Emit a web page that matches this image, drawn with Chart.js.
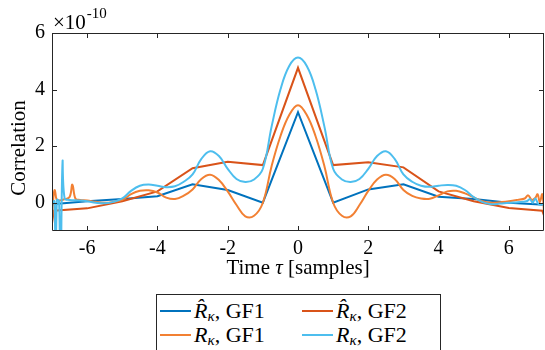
<!doctype html>
<html lang="en">
<head>
<meta charset="utf-8">
<title>Correlation vs time lag</title>
<style>
  html, body { margin: 0; padding: 0; background: #fff; }
  #wrap { position: relative; width: 545px; height: 350px; overflow: hidden; }
  #legend {
    position: absolute; left: 156px; top: 294px; width: 285px; height: 80px;
    border: 1px solid #262626; box-sizing: border-box; background: #fff;
    font-family: "Liberation Serif", serif; font-size: 22px; color: #000;
  }
  .item { position: absolute; height: 24px; line-height: 24px; white-space: nowrap; }
  .swatch { position: absolute; left: 0; top: 11px; width: 31px; height: 2px; }
  .txt { position: absolute; left: 34px; top: 0; }
  .txt sub { font-size: 15px; vertical-align: -3px; line-height: 0; }
</style>
</head>
<body>
<div id="wrap">
  <canvas id="myChart" width="545" height="350"></canvas>
  <div id="legend"></div>
</div>

<script src="https://cdn.jsdelivr.net/npm/chart.js"></script>
<script>
// values in units of 1e-10
const hatLagsGF1 = [-7, -6, -5, -4, -3, -2, -1, 0, 1, 2, 3, 4, 5, 6, 7];
const hatGF1 = [-0.05, 0.05, 0.13, 0.23, 0.65, 0.45, 0.0, 3.2, 0.0, 0.47, 0.65, 0.21, 0.13, 0.0, -0.07];

const hatLagsGF2 = [-7, -6.95, -6, -5, -4, -3, -2, -1, 0, 1, 2, 3, 4, 5, 6, 6.95, 7];
const hatGF2 = [-0.73, -0.28, -0.2, 0.05, 0.4, 1.22, 1.45, 1.33, 4.77, 1.33, 1.43, 1.25, 0.4, 0.05, -0.19, -0.28, -0.45];

const lagsGF1 = [-7, -6.96, -6.92, -6.87, -6.8, -6.65, -6.5, -6.42, -6.33, -6.2, -6, -5.75, -5.5, -5.25, -5,
  -4.75, -4.5, -4.25, -4, -3.75, -3.5, -3.25, -3, -2.75, -2.5, -2.25, -2, -1.75, -1.5, -1.25, -1,
  -0.75, -0.5, -0.25, 0, 0.25, 0.5, 0.75, 1, 1.25, 1.5, 1.75, 2, 2.25, 2.5, 2.75, 3, 3.25, 3.5, 3.75,
  4, 4.25, 4.5, 4.75, 5, 5.25, 5.5, 5.75, 6, 6.25, 6.45, 6.55, 6.65, 6.75, 6.82, 6.88, 6.95, 7];
const rGF1 = [-0.6, 0.2, 0.45, 0.12, 0.08, 0.12, 0.2, 0.64, 0.14, 0.1, 0.08, 0.03, 0.0, 0.03, 0.1,
  0.3, 0.42, 0.44, 0.36, 0.18, 0.13, 0.25, 0.47, 0.84, 0.99, 0.8, 0.4, -0.08, -0.48, -0.46, 0.0,
  1.3, 2.35, 3.1, 3.45, 3.1, 2.35, 1.3, 0.0, -0.46, -0.48, -0.08, 0.42, 0.82, 0.99, 0.84, 0.45, 0.24, 0.15, 0.14,
  0.26, 0.4, 0.42, 0.33, 0.19, 0.05, 0.0, 0.02, 0.05, 0.1, 0.15, 0.26, 0.1, 0.17, 0.3, 0.02, 0.3, -0.3];

const lagsGF2 = [-7, -6.93, -6.9, -6.86, -6.8, -6.76, -6.7, -6.64, -6.5, -6.25, -6, -5.75, -5.5, -5.25, -5,
  -4.75, -4.5, -4.25, -4, -3.75, -3.5, -3.25, -3, -2.75, -2.5, -2.25, -2, -1.75, -1.5, -1.25, -1,
  -0.75, -0.5, -0.25, 0, 0.25, 0.5, 0.75, 1, 1.25, 1.5, 1.75, 2, 2.25, 2.5, 2.75, 3, 3.25, 3.5, 3.75,
  4, 4.25, 4.5, 4.75, 5, 5.25, 5.5, 5.75, 6, 6.25, 6.5, 6.6, 6.68, 6.75, 6.85, 7];
const rGF2 = [0.0, 0.05, -3, 0.1, 0.05, -3, 1.45, 0.15, 0.1, 0.08, 0.05, 0.0, -0.02, 0.03, 0.15,
  0.42, 0.6, 0.64, 0.6, 0.55, 0.58, 0.74, 1.0, 1.55, 1.82, 1.65, 1.2, 0.84, 0.73, 0.82, 1.2,
  2.7, 4.0, 4.83, 5.13, 4.83, 4.0, 2.7, 1.2, 0.82, 0.73, 0.84, 1.2, 1.65, 1.82, 1.55, 1.0, 0.74, 0.6, 0.56,
  0.6, 0.63, 0.6, 0.45, 0.2, 0.02, -0.05, -0.03, 0.0, 0.02, 0.05, 0.12, 0.0, 0.15, -0.05, -0.05];

const xTicks = [-6, -4, -2, 0, 2, 4, 6];
const yTicks = [0, 2, 4, 6];

const seriesNames = ['GF1', 'GF2', 'GF1', 'GF2'];
const seriesHat = [true, true, false, false];
const seriesColors = ['#0072BD', '#D95319', '#F28033', '#4DBEEE'];

const axisColor = '#262626';
const serif = '"Liberation Serif", serif';

const toPoints = (xs, ys) => xs.map((x, i) => ({ x: x, y: ys[i] }));

const seriesData = [
  toPoints(hatLagsGF1, hatGF1),
  toPoints(hatLagsGF2, hatGF2),
  toPoints(lagsGF1, rGF1),
  toPoints(lagsGF2, rGF2)
];

const datasets = seriesData.map((data, i) => ({
  label: (seriesHat[i] ? 'R\u0302' : 'R') + '\u03ba, ' + seriesNames[i],
  data: data,
  borderColor: seriesColors[i],
  backgroundColor: seriesColors[i],
  borderWidth: 2,
  pointRadius: 0,
  fill: false,
  tension: seriesHat[i] ? 0 : 0.4,
  order: seriesData.length - i
}));

// box, inward ticks, axis titles, exponent
const decorations = {
  id: 'decorations',
  afterDraw(chart) {
    const ctx = chart.ctx;
    const a = chart.chartArea;
    const xs = chart.scales.x, ys = chart.scales.y;
    const tl = 5;
    ctx.save();
    ctx.strokeStyle = axisColor;
    ctx.lineWidth = 1;
    ctx.beginPath();
    ctx.rect(a.left + 0.5, a.top + 0.5, a.right - a.left - 1, a.bottom - a.top - 1);
    xTicks.forEach(v => {
      const px = Math.round(xs.getPixelForValue(v)) + 0.5;
      ctx.moveTo(px, a.bottom); ctx.lineTo(px, a.bottom - tl);
      ctx.moveTo(px, a.top); ctx.lineTo(px, a.top + tl);
    });
    yTicks.forEach(v => {
      const py = Math.round(ys.getPixelForValue(v)) + 0.5;
      ctx.moveTo(a.left, py); ctx.lineTo(a.left + tl, py);
      ctx.moveTo(a.right, py); ctx.lineTo(a.right - tl, py);
    });
    ctx.stroke();

    ctx.fillStyle = '#000';
    // x title
    const parts = [['Time ', 'normal'], ['\u03c4', 'italic'], [' [samples]', 'normal']];
    let total = 0;
    parts.forEach(p => { ctx.font = p[1] + ' 21px ' + serif; p.push(ctx.measureText(p[0]).width); total += p[2]; });
    let x0 = (a.left + a.right) / 2 - total / 2;
    ctx.textBaseline = 'alphabetic';
    ctx.textAlign = 'left';
    parts.forEach(p => { ctx.font = p[1] + ' 21px ' + serif; ctx.fillText(p[0], x0, 274); x0 += p[2]; });

    // y title
    ctx.save();
    ctx.translate(19, 148);
    ctx.rotate(-Math.PI / 2);
    ctx.font = '21px ' + serif;
    ctx.textAlign = 'center';
    ctx.textBaseline = 'middle';
    ctx.fillText('Correlation', 0, 0);
    ctx.restore();

    // exponent
    ctx.font = '21px ' + serif;
    ctx.textAlign = 'left';
    ctx.textBaseline = 'alphabetic';
    ctx.fillText('\u00d710', 53, 29);
    const w = ctx.measureText('\u00d710').width;
    ctx.font = '15px ' + serif;
    ctx.fillText('-10', 53 + w + 1, 18);
    ctx.restore();
  }
};

const config = {
  type: 'line',
  data: { datasets: datasets },
  options: {
    responsive: false,
    animation: false,
    events: [],
    layout: { padding: { left: 0, right: 1, top: 33, bottom: 0 } },
    plugins: {
      legend: { display: false },
      tooltip: { enabled: false },
      title: { display: false }
    },
    scales: {
      x: {
        type: 'linear',
        min: -7,
        max: 7,
        afterBuildTicks: (scale) => { scale.ticks = xTicks.map(v => ({ value: v })); },
        afterFit: (scale) => { scale.height = 119; },
        grid: { display: false, drawTicks: false },
        border: { display: false },
        ticks: { color: '#000', padding: 6, maxRotation: 0, font: { family: serif, size: 20 } }
      },
      y: {
        type: 'linear',
        min: -1,
        max: 6,
        afterBuildTicks: (scale) => { scale.ticks = yTicks.map(v => ({ value: v })); },
        afterFit: (scale) => { scale.width = 52; },
        grid: { display: false, drawTicks: false },
        border: { display: false },
        ticks: { color: '#000', padding: 7, font: { family: serif, size: 20 } }
      }
    }
  },
  plugins: [decorations]
};

new Chart(document.getElementById('myChart'), config);

// legend in two columns, filled row by row
const legend = document.getElementById('legend');
const colLeft = [3, 145];
const rowTop = [4, 28];
datasets.forEach((ds, i) => {
  const item = document.createElement('div');
  item.className = 'item';
  item.style.left = colLeft[i % 2] + 'px';
  item.style.top = rowTop[Math.floor(i / 2)] + 'px';
  const sw = document.createElement('div');
  sw.className = 'swatch';
  sw.style.background = ds.borderColor;
  const txt = document.createElement('div');
  txt.className = 'txt';
  txt.innerHTML = '<i>' + (seriesHat[i] ? 'R&#x302;' : 'R') + '</i><sub><i>&kappa;</i></sub>, ' + seriesNames[i];
  item.appendChild(sw);
  item.appendChild(txt);
  legend.appendChild(item);
});
</script>
</body>
</html>
